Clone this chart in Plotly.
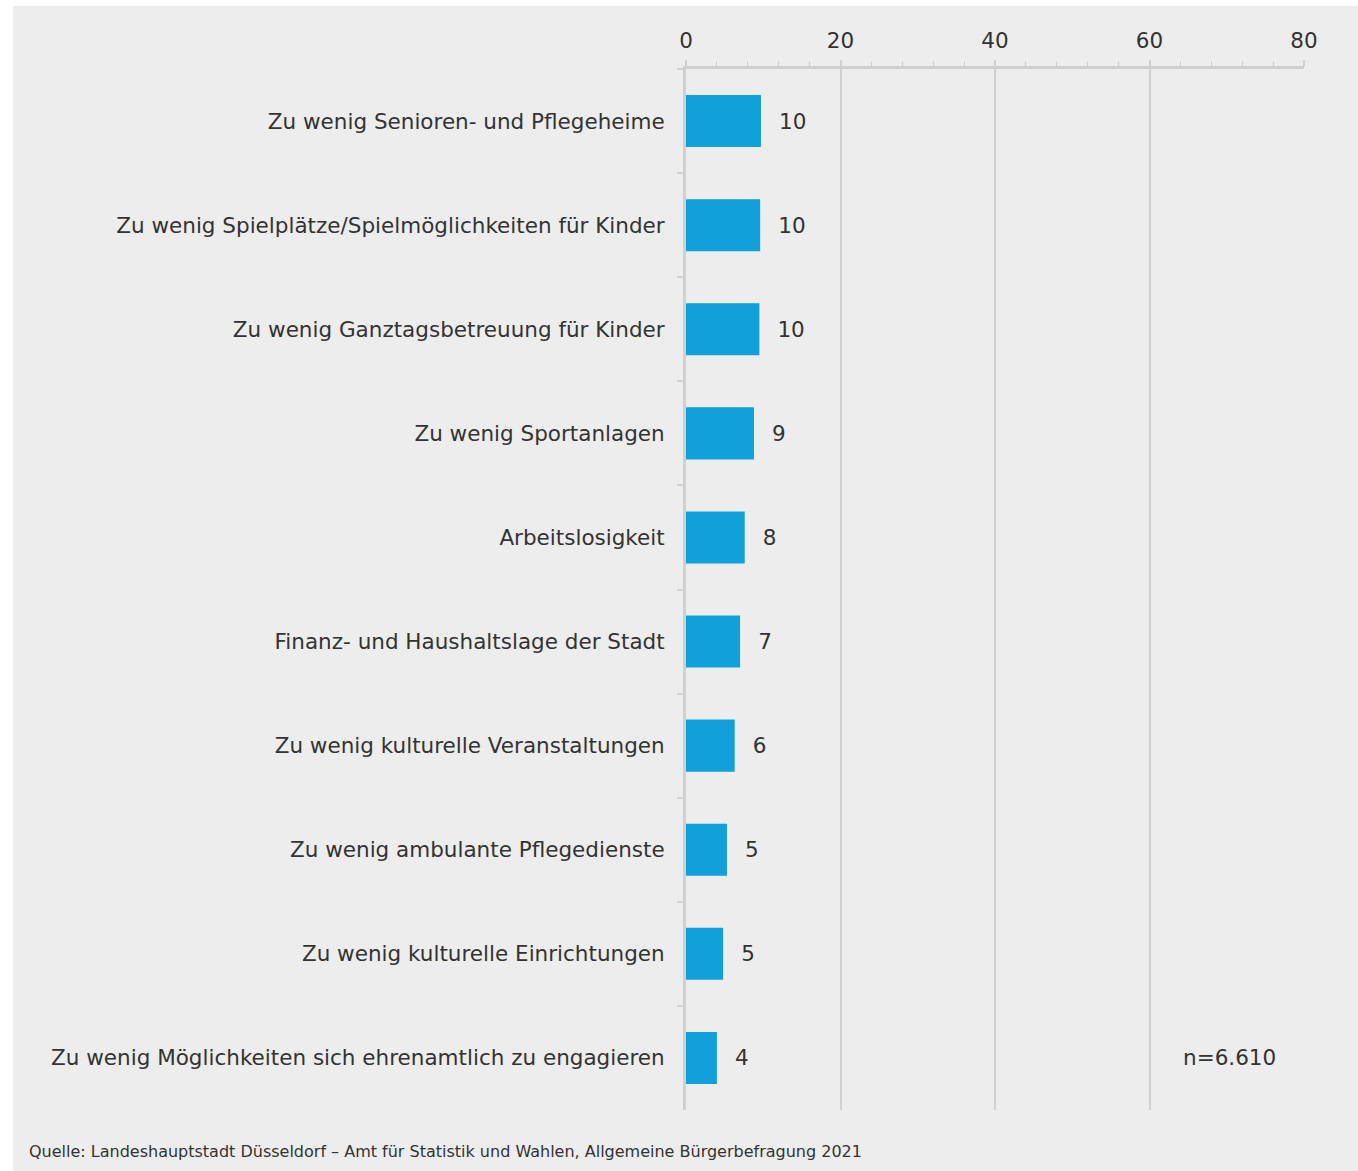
import plotly.graph_objects as go

categories = [
    "Zu wenig Senioren- und Pflegeheime",
    "Zu wenig Spielplätze/Spielmöglichkeiten für Kinder",
    "Zu wenig Ganztagsbetreuung für Kinder",
    "Zu wenig Sportanlagen",
    "Arbeitslosigkeit",
    "Finanz- und Haushaltslage der Stadt",
    "Zu wenig kulturelle Veranstaltungen",
    "Zu wenig ambulante Pflegedienste",
    "Zu wenig kulturelle Einrichtungen",
    "Zu wenig Möglichkeiten sich ehrenamtlich zu engagieren",
]
values = [9.7, 9.6, 9.5, 8.8, 7.6, 7.0, 6.3, 5.3, 4.8, 4.0]
x_ticks = [0, 20, 40, 60, 80]
note_text = "n=6.610"
source_text = "Quelle: Landeshauptstadt Düsseldorf – Amt für Statistik und Wahlen, Allgemeine Bürgerbefragung 2021"

FONT = "DejaVu Sans"
TXT = "#333333"
GRID = "#d0d0d0"
BG = "#ededed"
FS = 21.5

SW, SH = 1358, 1171
W, H = SW, SH
# screen positions of plot area
sx0, sx1, sy0, sy1 = 686, 1304, 69, 1110
ml, mt = sx0, sy0
mr = W - sx1
mb = H - sy1
pw, ph = sx1 - sx0, sy1 - sy0

def px_x(p):
    return (p - sx0) / pw

def px_y(p):
    return (sy1 - p) / ph

fig = go.Figure()
fig.add_trace(go.Bar(
    x=values, y=categories, orientation="h",
    marker=dict(color="#11a0d9", line=dict(width=0)),
    width=0.5,
    texttemplate="\u2002\u2009%{x:.0f}", textposition="outside",
    textfont=dict(family=FONT, size=FS, color=TXT),
    cliponaxis=False, hoverinfo="skip",
))

fig.add_shape(type="rect", xref="paper", yref="paper",
              x0=px_x(13), x1=px_x(SW + 20), y0=px_y(SH + 20), y1=px_y(6),
              fillcolor=BG, line=dict(width=0), layer="below")

fig.add_annotation(x=70.3, y=categories[-1], xref="x", yref="y",
                   text=note_text, showarrow=False,
                   font=dict(family=FONT, size=FS, color=TXT))
fig.add_annotation(x=px_x(27), y=px_y(1151), xref="paper", yref="paper",
                   xanchor="left", yanchor="middle", text=source_text,
                   showarrow=False, font=dict(family=FONT, size=16, color=TXT))

fig.update_layout(
    width=W, height=H,
    margin=dict(l=ml, r=mr, t=mt, b=mb, pad=0),
    paper_bgcolor="white", plot_bgcolor="rgba(0,0,0,0)",
    showlegend=False, bargap=0.5,
    font=dict(family=FONT, size=FS, color=TXT),
)
fig.update_xaxes(
    side="top", range=[0, 80], tickvals=x_ticks,
    showgrid=True, gridcolor=GRID, gridwidth=2,
    showline=True, linecolor=GRID, linewidth=3,
    ticks="outside", ticklen=6, tickcolor=GRID, tickwidth=2,
    minor=dict(dtick=4, ticks="outside", ticklen=5, tickcolor=GRID, tickwidth=1, showgrid=False),
    tickfont=dict(family=FONT, size=FS, color=TXT),
    ticklabelstandoff=3, zeroline=False, fixedrange=True,
)
fig.update_yaxes(
    autorange="reversed", type="category",
    showline=True, linecolor=GRID, linewidth=3,
    ticks="outside", tickson="boundaries", ticklen=6, tickcolor=GRID, tickwidth=2,
    showgrid=False, tickfont=dict(family=FONT, size=FS, color=TXT),
    ticklabelstandoff=14, fixedrange=True,
)

fig.write_html(
    "out.html",
    config={"displayModeBar": False},
    post_script="document.body.style.margin='0';document.body.style.overflow='hidden';",
)
